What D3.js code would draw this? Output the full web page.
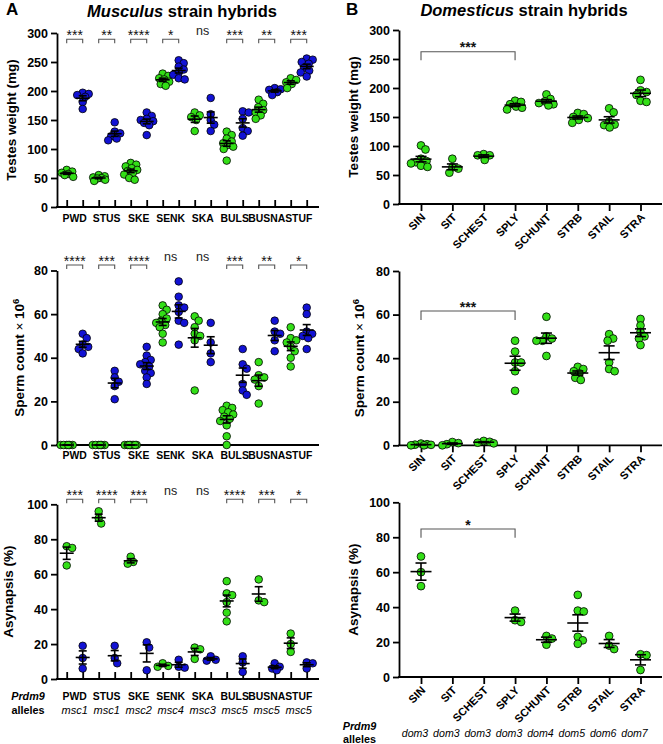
<!DOCTYPE html>
<html><head><meta charset="utf-8">
<script src="https://cdn.jsdelivr.net/npm/d3@7"></script>
<style>body{margin:0;background:#fff} svg{display:block} text{font-family:"Liberation Sans",Arial,Helvetica,sans-serif}</style>
</head><body><svg id="c" width="663" height="744"></svg>
<script>
// ================= DATA =================
const strainsA = ["PWD","STUS","SKE","SENK","SKA","BULS","BUSNA","STUF"];
const allelesA = ["msc1","msc1","msc2","msc4","msc3","msc5","msc5","msc5"];

const testesA_green = [
  [64,61,59,57,55,52],
  [55,53,51,50,49,47,45],
  [76,73,70,67,64,62,58,56,50,47],
  [230,226,222,220,216,212,209],
  [163,158,155,150,131],
  [130,124,118,113,110,107,104,100,80],
  [185,178,172,167,163,158,152],
  [222,219,215,212,205]
];
const testesA_blue = [
  [197,195,193,190,181,169],
  [146,130,127,122,118,115],
  [163,157,152,150,148,145,141,124],
  [253,248,242,237,232,228,222,220],
  [188,160,150,142,131],
  [165,163,152,136,131,123],
  [205,203,202,198,193],
  [256,254,250,247,240,235,232,225]
];
const spermA_green = [
  [0,0,0,0,0,0],
  [0,0,0,0,0,0],
  [0,0,0,0,0,0,0,0],
  [64,62,60,58,57,56,55,54,51,47],
  [59,57,54,51,50,48,25],
  [18,17,16,15,14,13,12,11,9,4,0],
  [38,32,31,30,27,19],
  [54,49,48,47,45,43,40,36]
];
const spermA_blue = [
  [51,49,46,45,44,42],
  [34,31,29,27,21],
  [45,41,39,38,37,36,34,33,31,28],
  [75,68,64,63,61,57,56,46],
  [56,47,42,38],
  [44,37,35,28,25,23],
  [57,52,51,48,43],
  [63,60,52,51,50,49,44]
];
const asynA_green = [[76,75,65],[96,92,89],[70,67,66],[9,7.5,7],[18,17,11.5],[56,49,48,44,38,33],[57,45,44],[26,20,15.5]];
const asynA_blue  = [[19,12,6],[19,12,9],[21,18,5],[11,7,6.5],[13,11,10.5],[13,9.5,4],[9,7,6,5],[9.5,9,6]];

const sigTestesA = ["***","**","****","*","ns","***","**","***"];
const sigSpermA  = ["****","***","****","ns","ns","***","**","*"];
const sigAsynA   = ["***","****","***","ns","ns","****","***","*"];

const strainsB = ["SIN","SIT","SCHEST","SPLY","SCHUNT","STRB","STAIL","STRA"];
const allelesB = ["dom3","dom3","dom3","dom3","dom4","dom5","dom6","dom7"];
const testesB = [[101,94,78,74,72,70,66,64],[78,63,61,54],[86,84,84,76],[178,176,172,168,166,163],[189,181,177,174,172,170],[157,155,150,148,145,140],[165,158,142,137,136,132],[214,196,193,188,178,176]];
const spermB  = [[0.8,0.5,0.3,0.2,0,0],[1.5,1,0.5,0],[2,1.6,1.2,0.9],[48,43,38,38,34,25],[59,50,49,48,48,41],[36,35,34,33,31,30],[51,49,48,38,35,34],[58,55,52,50,49,46]];
const asynB   = [[69,60,52],[],[],[38,32.5,31.5],[23.5,22,18.5],[47,38,37.5,23,21,19],[23.5,18,16],[13,12.5,4]];
const sigB = [{from:"SIN",to:"SPLY",label:"***"},{from:"SIN",to:"SPLY",label:"***"},{from:"SIN",to:"SPLY",label:"*"}];

const ticksTestes = [0,50,100,150,200,250,300];
const ticksSperm  = [0,20,40,60,80];
const ticksAsyn   = [0,20,40,60,80,100];

// ================= DRAW =================
const svg = d3.select("#c");
const GREEN="#33df17", BLUE="#1212d4";
const AX=1.8;

function beeswarm(vals, y, thr, maxW){
  const placed=[], out=[];
  const cands=[0]; for(let k=0.5;k<=maxW;k+=0.5){cands.push(k,-k);}
  vals.forEach(v=>{
    const py=y(v); let best=0,bestD=-1,chosen=null;
    for(const c of cands){
      let md=Infinity;
      for(const p of placed){const d=Math.hypot(c-p[0],py-p[1]); if(d<md)md=d;}
      if(md>=thr){chosen=c;break;}
      if(md>bestD){bestD=md;best=c;}
    }
    if(chosen===null)chosen=best;
    placed.push([chosen,py]); out.push(chosen);
  });
  return out;
}

function drawGroup(g, vals, cx, y, color, r, meanW, capW, maxW){
  if(!vals.length) return;
  const offs = beeswarm(vals, y, r*1.5, maxW);
  g.append("g").selectAll("circle").data(vals).enter().append("circle")
   .attr("cx",(d,i)=>cx+offs[i]).attr("cy",d=>y(d)).attr("r",r)
   .attr("fill",color).attr("stroke","#000").attr("stroke-width",0.8);
  const m=d3.mean(vals);
  const sem = vals.length>1 ? d3.deviation(vals)/Math.sqrt(vals.length) : 0;
  const lg=g.append("g").attr("stroke","#000").attr("stroke-width",1.6);
  lg.append("line").attr("x1",cx-meanW/2).attr("x2",cx+meanW/2).attr("y1",y(m)).attr("y2",y(m));
  lg.append("line").attr("x1",cx).attr("x2",cx).attr("y1",y(m-sem)).attr("y2",y(m+sem));
  lg.append("line").attr("x1",cx-capW/2).attr("x2",cx+capW/2).attr("y1",y(m+sem)).attr("y2",y(m+sem));
  lg.append("line").attr("x1",cx-capW/2).attr("x2",cx+capW/2).attr("y1",y(m-sem)).attr("y2",y(m-sem));
}

function yAxis(x0, y, ticks){
  const ax=d3.axisLeft(y).tickValues(ticks).tickSize(6).tickPadding(3).tickSizeOuter(0);
  svg.append("g").attr("transform",`translate(${x0},0)`).call(ax)
    .call(s=>s.selectAll("text").attr("font-size",12.5).attr("font-weight","bold").attr("fill","#000"))
    .call(s=>s.selectAll("line,path").attr("stroke","#000").attr("stroke-width",AX));
}
function xAxis(x0,x1,yv,xs,tick){
  svg.append("line").attr("x1",x0-AX/2).attr("x2",x1).attr("y1",yv).attr("y2",yv).attr("stroke","#000").attr("stroke-width",AX);
  if(tick!==0){
    const ax=d3.axisBottom(xs).tickSize(tick).tickFormat("");
    const gg=svg.append("g").attr("transform",`translate(0,${yv})`).call(ax);
    gg.select(".domain").remove();
    gg.selectAll("line").attr("stroke","#000").attr("stroke-width",AX);
  }
}
function yTitle(x, yc, parts){
  const t=svg.append("text").attr("transform",`translate(${x},${yc}) rotate(-90)`)
    .attr("text-anchor","middle").attr("font-size",13.5).attr("font-weight","bold").attr("fill","#000");
  parts.forEach(p=>{
    const ts=t.append("tspan").text(p.t);
    if(p.w) ts.attr("font-weight",p.w);
    if(p.sup) ts.attr("baseline-shift","super").attr("font-size",9.5);
  });
}

// ---------- Panel A ----------
const colsA = d3.range(16);
const xA = d3.scalePoint().domain(colsA).range([66.7,306.7]);
const pairX = i => (xA(2*i)+xA(2*i+1))/2;

const panelsA = [
  {green:testesA_green, blue:testesA_blue, sig:sigTestesA, dom:[0,300], rng:[207,33], ticks:ticksTestes, brY:39.3, tick:-7, lab:222,
   title:[{t:"Testes weight (mg)"}], tx:16},
  {green:spermA_green, blue:spermA_blue, sig:sigSpermA, dom:[0,80], rng:[445,270.5], ticks:ticksSperm, brY:265, tick:0, lab:459,
   title:[{t:"Sperm count "},{t:"×",w:"normal"},{t:" 10"},{t:"6",sup:true}], tx:24},
  {green:asynA_green, blue:asynA_blue, sig:sigAsynA, dom:[0,100], rng:[679,504.3], ticks:ticksAsyn, brY:499.3, tick:-7, lab:699.5,
   title:[{t:"Asynapsis (%)"}], tx:13}
];
panelsA.forEach(P=>{
  const y=d3.scaleLinear().domain(P.dom).range(P.rng);
  yAxis(57,y,P.ticks);
  xAxis(57,319,y(0),xA,P.tick);
  yTitle(P.tx,(P.rng[0]+P.rng[1])/2,P.title);
  const g=svg.append("g");
  strainsA.forEach((s,i)=>{
    drawGroup(g,P.green[i],xA(2*i),y,GREEN,3.8,14,8,6.5);
    drawGroup(g,P.blue[i],xA(2*i+1),y,BLUE,3.8,14,8,6.5);
    const sg=P.sig[i], xl=xA(2*i), xr=xA(2*i+1), cx=(xl+xr)/2;
    if(sg==="ns"){
      svg.append("text").attr("x",cx).attr("y",P.brY-4.5).attr("text-anchor","middle").attr("font-size",12.5).attr("fill","#222").text("ns");
    } else {
      svg.append("path").attr("d",`M${xl},${P.brY+4}V${P.brY}H${xr}V${P.brY+4}`).attr("fill","none").attr("stroke","#555").attr("stroke-width",1.1);
      svg.append("text").attr("x",cx).attr("y",P.brY+1).attr("text-anchor","middle").attr("font-size",14).attr("fill","#111").text(sg);
    }
    svg.append("text").attr("x",pairX(i)).attr("y",P.lab).attr("text-anchor","middle").attr("font-size",10.4).attr("font-weight","bold").text(s);
  });
});
// allele row A
svg.append("text").attr("x",28).attr("y",699.5).attr("text-anchor","middle").attr("font-size",10.8).attr("font-weight","bold").attr("font-style","italic").text("Prdm9");
svg.append("text").attr("x",28).attr("y",713.5).attr("text-anchor","middle").attr("font-size",10.8).attr("font-weight","bold").text("alleles");
allelesA.forEach((a,i)=>{
  svg.append("text").attr("x",pairX(i)).attr("y",713.5).attr("text-anchor","middle").attr("font-size",11).attr("font-style","italic").text(a);
});

// ---------- Panel B ----------
const xB = d3.scalePoint().domain(strainsB).range([421,640.5]);
const panelsB = [
  {data:testesB, dom:[0,300], rng:[204,30], ticks:ticksTestes, brY:51.7, drop:8.6, title:[{t:"Testes weight (mg)"}], tx:358},
  {data:spermB, dom:[0,80], rng:[445.3,271], ticks:ticksSperm, brY:311, drop:9, title:[{t:"Sperm count "},{t:"×",w:"normal"},{t:" 10"},{t:"6",sup:true}], tx:364},
  {data:asynB, dom:[0,100], rng:[677,502.3], ticks:ticksAsyn, brY:529, drop:8.7, title:[{t:"Asynapsis (%)"}], tx:358}
];
panelsB.forEach((P,k)=>{
  const y=d3.scaleLinear().domain(P.dom).range(P.rng);
  yAxis(399,y,P.ticks);
  xAxis(399,662,y(0),xB,7);
  yTitle(P.tx,(P.rng[0]+P.rng[1])/2,P.title);
  const g=svg.append("g");
  strainsB.forEach((s,i)=>{
    drawGroup(g,P.data[i],xB(s),y,GREEN,3.9,21,11,10);
    svg.append("text").attr("transform",`translate(${xB(s)+5},${y(0)+14}) rotate(-45)`)
      .attr("text-anchor","end").attr("font-size",11).attr("font-weight","bold").text(s);
  });
  const b=sigB[k], xl=xB(b.from), xr=xB(b.to);
  svg.append("path").attr("d",`M${xl},${P.brY+P.drop}V${P.brY}H${xr}V${P.brY+P.drop}`).attr("fill","none").attr("stroke","#555").attr("stroke-width",1.1);
  svg.append("text").attr("x",(xl+xr)/2).attr("y",P.brY+0.5).attr("text-anchor","middle").attr("font-size",14).attr("font-weight","bold").attr("fill","#111").text(b.label);
});
svg.append("text").attr("x",359.5).attr("y",730).attr("text-anchor","middle").attr("font-size",10.8).attr("font-weight","bold").attr("font-style","italic").text("Prdm9");
svg.append("text").attr("x",359.5).attr("y",743).attr("text-anchor","middle").attr("font-size",10.8).attr("font-weight","bold").text("alleles");
allelesB.forEach((a,i)=>{
  svg.append("text").attr("x",xB(strainsB[i])-6).attr("y",736.5).attr("text-anchor","middle").attr("font-size",10.6).attr("font-style","italic").text(a);
});

// ---------- Titles ----------
svg.append("text").attr("x",6).attr("y",15).attr("font-size",17).attr("font-weight","bold").text("A");
svg.append("text").attr("x",346).attr("y",15).attr("font-size",17).attr("font-weight","bold").text("B");
const tA=svg.append("text").attr("x",182).attr("y",17).attr("text-anchor","middle").attr("font-size",16.5).attr("font-weight","bold");
tA.append("tspan").attr("font-style","italic").text("Musculus");
tA.append("tspan").text(" strain hybrids");
const tB=svg.append("text").attr("x",524).attr("y",16).attr("text-anchor","middle").attr("font-size",16.5).attr("font-weight","bold");
tB.append("tspan").attr("font-style","italic").text("Domesticus");
tB.append("tspan").text(" strain hybrids");
</script>
</body></html>
